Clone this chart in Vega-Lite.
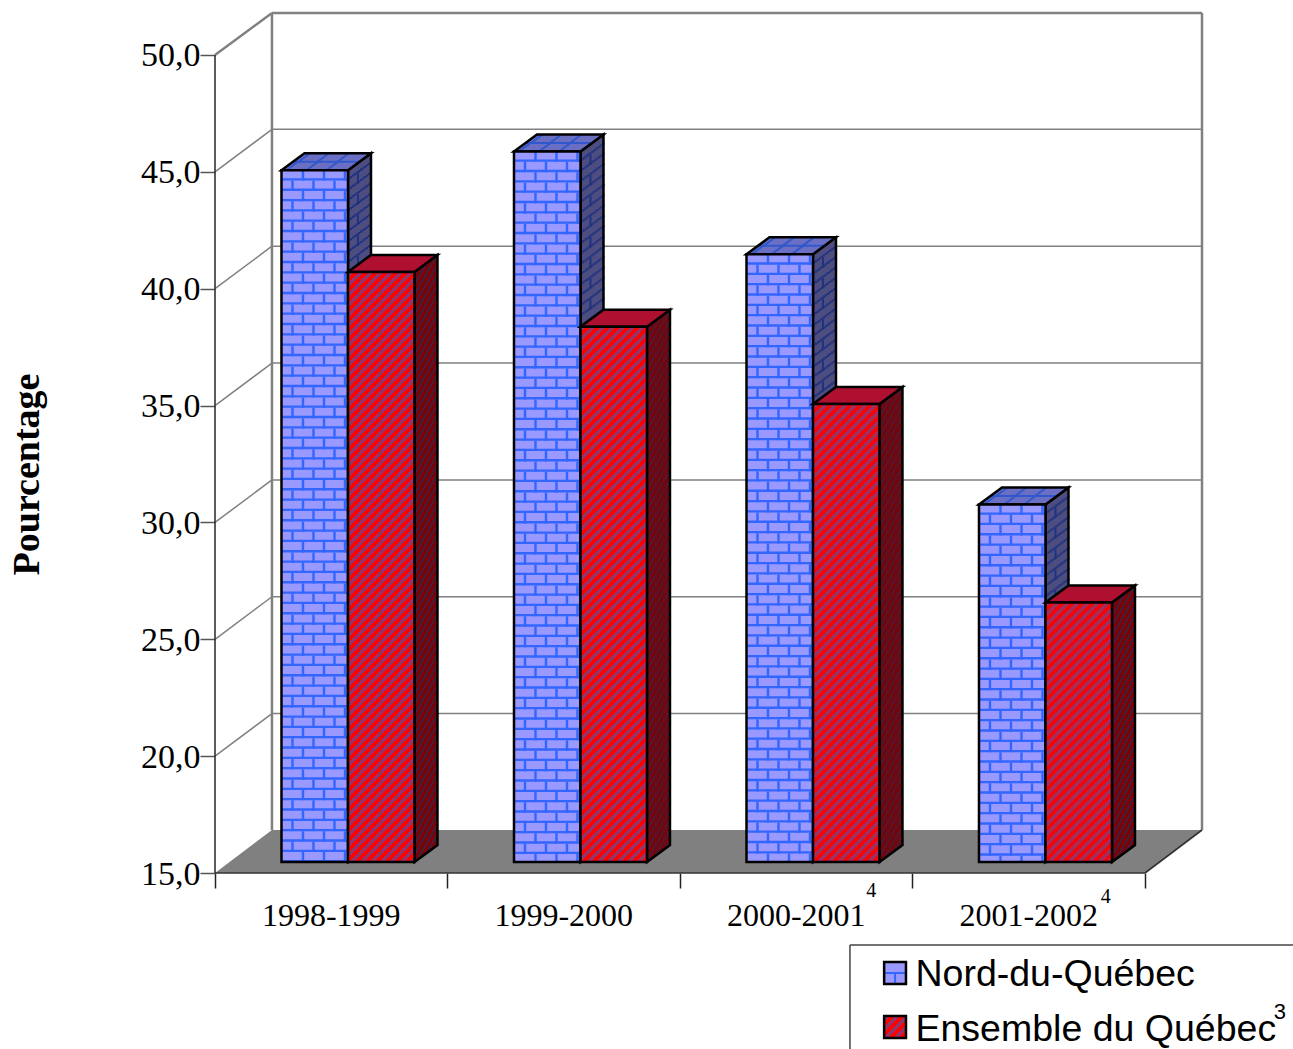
{
"$schema":"https://vega.github.io/schema/vega-lite/v6.json",
"width":987,"height":860,"autosize":"none",
"padding":{"left":215,"top":13,"right":91,"bottom":176},
"background":"white",
"config":{"view":{"stroke":null},"axis":{"grid":false}},
"data":{"values":[
{"periode":"1998-1999","rang":0,"serie":"Nord-du-Québec","valeur":44.6},
{"periode":"1998-1999","rang":0,"serie":"Ensemble du Québec","valeur":40.25},
{"periode":"1999-2000","rang":1,"serie":"Nord-du-Québec","valeur":45.4},
{"periode":"1999-2000","rang":1,"serie":"Ensemble du Québec","valeur":37.9},
{"periode":"2000-2001","rang":2,"serie":"Nord-du-Québec","valeur":41.0},
{"periode":"2000-2001","rang":2,"serie":"Ensemble du Québec","valeur":34.6},
{"periode":"2001-2002","rang":3,"serie":"Nord-du-Québec","valeur":30.3},
{"periode":"2001-2002","rang":3,"serie":"Ensemble du Québec","valeur":26.1}
]},
"transform":[
{"calculate":"datum.rang+(datum.serie==='Nord-du-Québec'?0.286:0.572)","as":"xg"},
{"calculate":"datum.xg+0.286","as":"xd"},
{"calculate":"datum.valeur+0.47","as":"yh"},
{"calculate":"15.47","as":"yb"}
],
"layer":[
{"data":{"values":[{"n":15,"a":0,"b":4},{"n":16.84,"a":0.245,"b":4.2452}]},
 "mark":{"type":"area","orient":"horizontal","color":"#808080"},
 "encoding":{
  "y":{"field":"n","type":"quantitative","scale":{"domain":[15,51.797],"nice":false,"zero":false},
   "title":"Pourcentage",
   "axis":{"values":[15,20,25,30,35,40,45,50],"domain":false,"tickSize":15,"tickColor":"#555","tickWidth":1.5,"labelFont":"Liberation Serif","labelFontSize":34,"labelColor":"black","labelPadding":0,"labelOffset":1,"labelExpr":"replace(format(datum.value,'.1f'),'.',',')","titleFont":"Liberation Serif","titleFontSize":38,"titleFontWeight":"bold","titleColor":"black","titleX":-169,"titleY":461,"titleAngle":270}},
  "x":{"field":"a","type":"quantitative","scale":{"domain":[0,4.2452],"nice":false,"zero":false},
   "title":null,
   "axis":{"values":[0,1,2,3,4],"domain":false,"labels":false,"tickSize":15,"tickColor":"#222","tickWidth":1.5}},
  "x2":{"field":"b"}}},
{"data":{"values":[
 {"a":0.245,"c":16.84,"b":0.245,"d":51.797},
 {"a":0.245,"c":51.797,"b":4.2452,"d":51.797},
 {"a":4.2452,"c":51.797,"b":4.2452,"d":16.84},
 {"a":0,"c":50,"b":0.245,"d":51.797}]},
 "mark":{"type":"rule","color":"#808080","strokeWidth":2.5},
 "encoding":{"x":{"field":"a","type":"quantitative"},"x2":{"field":"b"},"y":{"field":"c","type":"quantitative"},"y2":{"field":"d"}}},
{"data":{"values":[
 {"a":0.245,"c":21.82,"b":4.2452,"d":21.82},{"a":0.245,"c":26.82,"b":4.2452,"d":26.82},
 {"a":0.245,"c":31.82,"b":4.2452,"d":31.82},{"a":0.245,"c":36.82,"b":4.2452,"d":36.82},
 {"a":0.245,"c":41.82,"b":4.2452,"d":41.82},{"a":0.245,"c":46.82,"b":4.2452,"d":46.82},
 {"a":0,"c":20,"b":0.245,"d":21.82},{"a":0,"c":25,"b":0.245,"d":26.82},
 {"a":0,"c":30,"b":0.245,"d":31.82},{"a":0,"c":35,"b":0.245,"d":36.82},
 {"a":0,"c":40,"b":0.245,"d":41.82},{"a":0,"c":45,"b":0.245,"d":46.82}]},
 "mark":{"type":"rule","color":"#808080","strokeWidth":1.5},
 "encoding":{"x":{"field":"a","type":"quantitative"},"x2":{"field":"b"},"y":{"field":"c","type":"quantitative"},"y2":{"field":"d"}}},
{"data":{"values":[
 {"a":0,"c":15,"b":0,"d":50},
 {"a":0,"c":15,"b":4,"d":15},
 {"a":4,"c":15,"b":4.2452,"d":16.84}]},
 "mark":{"type":"rule","color":"#333","strokeWidth":1.6},
 "encoding":{"x":{"field":"a","type":"quantitative"},"x2":{"field":"b"},"y":{"field":"c","type":"quantitative"},"y2":{"field":"d"}}},

{"transform":[{"filter":"datum.serie==='Nord-du-Québec'"},{"calculate":"[datum.xd,datum.xd+0.0989]","as":"sx"},{"calculate":"[datum.yh,datum.yh+0.7274]","as":"st"},{"calculate":"[datum.yb,datum.yb+0.7274]","as":"sb"},{"flatten":["sx","st","sb"]}],
 "mark":{"type":"area","color":"#4d4d80"},
 "encoding":{"x":{"field":"sx","type":"quantitative"},"y":{"field":"st","type":"quantitative"},"y2":{"field":"sb"},"detail":{"field":"rang"}}},
{"transform":[{"filter":"datum.serie==='Nord-du-Québec'"},{"calculate":"[0,2,4,6,8,10,12,14,16,18,20,22]","as":"col"},{"flatten":["col"]},{"calculate":"datum.xd+(datum.col+1)/232.5","as":"xc"},{"calculate":"datum.yh+(datum.col+1)/23*0.7274","as":"y1"},{"calculate":"datum.yb+(datum.col+1)/23*0.7274","as":"y0"}],
 "mark":{"type":"rule","color":"#1f3380","strokeWidth":2,"strokeDash":[0,8,2.33,0]},
 "encoding":{"x":{"field":"xc","type":"quantitative"},"y":{"field":"y1","type":"quantitative"},"y2":{"field":"y0"}}},
{"transform":[{"filter":"datum.serie==='Nord-du-Québec'"},{"calculate":"datum.xd+10/232.5","as":"xc"},{"calculate":"datum.yh+10/23*0.7274","as":"y1"},{"calculate":"datum.yb+10/23*0.7274","as":"y0"}],
 "mark":{"type":"rule","color":"#1f3380","strokeWidth":2,"strokeDash":[0,10.33,10.33,0]},
 "encoding":{"x":{"field":"xc","type":"quantitative"},"y":{"field":"y1","type":"quantitative"},"y2":{"field":"y0"}}},
{"transform":[{"filter":"datum.serie==='Nord-du-Québec'"},{"calculate":"[datum.xd,datum.xd+0.0989]","as":"sx"},{"calculate":"[datum.yh,datum.yh+0.7274]","as":"st"},{"calculate":"[datum.yb,datum.yb+0.7274]","as":"sb"},{"flatten":["sx","st","sb"]}],
 "mark":{"type":"area","fillOpacity":0,"stroke":"black","strokeWidth":2.5},
 "encoding":{"x":{"field":"sx","type":"quantitative"},"y":{"field":"st","type":"quantitative"},"y2":{"field":"sb"},"detail":{"field":"rang"}}},
{"transform":[{"filter":"datum.serie==='Nord-du-Québec'"},{"calculate":"[datum.yh,datum.yh+0.7274]","as":"ty"},{"calculate":"[datum.xg,datum.xg+0.0989]","as":"ta"},{"calculate":"[datum.xd,datum.xd+0.0989]","as":"tb"},{"flatten":["ty","ta","tb"]}],
 "mark":{"type":"area","orient":"horizontal","color":"#6b6fc4"},
 "encoding":{"y":{"field":"ty","type":"quantitative"},"x":{"field":"ta","type":"quantitative"},"x2":{"field":"tb"},"detail":{"field":"rang"}}},
{"transform":[{"filter":"datum.serie==='Nord-du-Québec'"},{"calculate":"datum.xg+0.05","as":"ma"},{"calculate":"datum.xd+0.05","as":"mb"},{"calculate":"datum.yh+0.3637","as":"my"}],
 "mark":{"type":"rule","color":"#3058cc","strokeWidth":2},
 "encoding":{"x":{"field":"ma","type":"quantitative"},"x2":{"field":"mb"},"y":{"field":"my","type":"quantitative"}}},
{"transform":[{"filter":"datum.serie==='Nord-du-Québec'"},{"calculate":"[5,25,45]","as":"col"},{"flatten":["col"]},{"calculate":"datum.xg+datum.col/232.5","as":"ja"},{"calculate":"datum.xg+(datum.col+11.5)/232.5","as":"jb"},{"calculate":"datum.yh+0.3637","as":"jy"}],
 "mark":{"type":"rule","color":"#3058cc","strokeWidth":2},
 "encoding":{"x":{"field":"ja","type":"quantitative"},"x2":{"field":"jb"},"y":{"field":"yh","type":"quantitative"},"y2":{"field":"jy"}}},
{"transform":[{"filter":"datum.serie==='Nord-du-Québec'"},{"calculate":"[17,36,56]","as":"col"},{"flatten":["col"]},{"calculate":"datum.xg+datum.col/232.5","as":"ja"},{"calculate":"datum.xg+(datum.col+11.5)/232.5","as":"jb"},{"calculate":"datum.yh+0.3637","as":"jy"},{"calculate":"datum.yh+0.7274","as":"jz"}],
 "mark":{"type":"rule","color":"#3058cc","strokeWidth":2},
 "encoding":{"x":{"field":"ja","type":"quantitative"},"x2":{"field":"jb"},"y":{"field":"jy","type":"quantitative"},"y2":{"field":"jz"}}},
{"transform":[{"filter":"datum.serie==='Nord-du-Québec'"},{"calculate":"[datum.yh,datum.yh+0.7274]","as":"ty"},{"calculate":"[datum.xg,datum.xg+0.0989]","as":"ta"},{"calculate":"[datum.xd,datum.xd+0.0989]","as":"tb"},{"flatten":["ty","ta","tb"]}],
 "mark":{"type":"area","orient":"horizontal","fillOpacity":0,"stroke":"black","strokeWidth":2.5},
 "encoding":{"y":{"field":"ty","type":"quantitative"},"x":{"field":"ta","type":"quantitative"},"x2":{"field":"tb"},"detail":{"field":"rang"}}},
{"transform":[{"filter":"datum.serie==='Nord-du-Québec'"}],
 "mark":{"type":"rect"},
 "encoding":{"x":{"field":"xg","type":"quantitative"},"x2":{"field":"xd"},"y":{"field":"yh","type":"quantitative"},"y2":{"field":"yb"},
  "color":{"field":"serie","type":"nominal","scale":{"domain":["Nord-du-Québec","Ensemble du Québec"],"range":["#9999ff","#ff0000"]},
   "legend":{"title":null,"orient":"none","legendX":635,"legendY":933.5,"padding":10,"symbolOffset":16,"symbolType":"square","symbolSize":484,"symbolOpacity":0,"symbolStrokeWidth":0,"labelFont":"Liberation Sans","labelFontSize":37.5,"labelColor":"black","labelOffset":2,"labelLimit":500,"rowPadding":16,"labelOverlap":false}}}},
{"transform":[{"filter":"datum.serie==='Nord-du-Québec'"},{"calculate":"(datum.xg+datum.xd)/2","as":"xm"}],
 "mark":{"type":"rule","color":"#3366ff","strokeWidth":66,"strokeDash":[0,8,2.33,0]},
 "encoding":{"x":{"field":"xm","type":"quantitative"},"y":{"field":"yh","type":"quantitative"},"y2":{"field":"yb"}}},
{"transform":[{"filter":"datum.serie==='Nord-du-Québec'"},{"calculate":"[21.5,42.5,63.5]","as":"col"},{"flatten":["col"]},{"calculate":"datum.xg+datum.col/232.5","as":"xc"}],
 "mark":{"type":"rule","color":"#3366ff","strokeWidth":2.4,"strokeDash":[10.33,10.33]},
 "encoding":{"x":{"field":"xc","type":"quantitative"},"y":{"field":"yh","type":"quantitative"},"y2":{"field":"yb"}}},
{"transform":[{"filter":"datum.serie==='Nord-du-Québec'"},{"calculate":"[11,32,53]","as":"col"},{"flatten":["col"]},{"calculate":"datum.xg+datum.col/232.5","as":"xc"}],
 "mark":{"type":"rule","color":"#3366ff","strokeWidth":2.4,"strokeDash":[0,10.33,10.33,0]},
 "encoding":{"x":{"field":"xc","type":"quantitative"},"y":{"field":"yh","type":"quantitative"},"y2":{"field":"yb"}}},
{"transform":[{"filter":"datum.serie==='Nord-du-Québec'"}],
 "mark":{"type":"rect","fillOpacity":0,"stroke":"black","strokeWidth":2.5},
 "encoding":{"x":{"field":"xg","type":"quantitative"},"x2":{"field":"xd"},"y":{"field":"yh","type":"quantitative"},"y2":{"field":"yb"}}},

{"transform":[{"filter":"datum.serie==='Ensemble du Québec'"},{"calculate":"[datum.xd,datum.xd+0.0989]","as":"sx"},{"calculate":"[datum.yh,datum.yh+0.7274]","as":"st"},{"calculate":"[datum.yb,datum.yb+0.7274]","as":"sb"},{"flatten":["sx","st","sb"]}],
 "mark":{"type":"area","color":"#800000"},
 "encoding":{"x":{"field":"sx","type":"quantitative"},"y":{"field":"st","type":"quantitative"},"y2":{"field":"sb"},"detail":{"field":"rang"}}},
{"transform":[{"filter":"datum.serie==='Ensemble du Québec'"},{"calculate":"[0,2,4,6,8,10,12,14,16,18,20,22]","as":"col"},{"flatten":["col"]},{"calculate":"(floor(datum.xd*232.5+0.5)+datum.col+1)/232.5","as":"xc"},{"calculate":"datum.yh+(datum.col+1)/23*0.7274","as":"y1"},{"calculate":"datum.yb+(datum.col+1)/23*0.7274","as":"y0"},{"calculate":"datum.col%10","as":"ph"}],
 "mark":{"type":"rule","color":"#4d1a33","strokeWidth":2},
 "encoding":{"x":{"field":"xc","type":"quantitative"},"y":{"field":"y1","type":"quantitative"},"y2":{"field":"y0"},
  "strokeDash":{"field":"ph","type":"nominal","legend":null,"scale":{"domain":[0,2,4,6,8],"range":[[5,5],[3,5,2,0],[1,5,4,0],[0,4,5,1],[0,2,5,3]]}}}},
{"transform":[{"filter":"datum.serie==='Ensemble du Québec'"},{"calculate":"[datum.xd,datum.xd+0.0989]","as":"sx"},{"calculate":"[datum.yh,datum.yh+0.7274]","as":"st"},{"calculate":"[datum.yb,datum.yb+0.7274]","as":"sb"},{"flatten":["sx","st","sb"]}],
 "mark":{"type":"area","fillOpacity":0,"stroke":"black","strokeWidth":2.5},
 "encoding":{"x":{"field":"sx","type":"quantitative"},"y":{"field":"st","type":"quantitative"},"y2":{"field":"sb"},"detail":{"field":"rang"}}},
{"transform":[{"filter":"datum.serie==='Ensemble du Québec'"},{"calculate":"[datum.yh,datum.yh+0.7274]","as":"ty"},{"calculate":"[datum.xg,datum.xg+0.0989]","as":"ta"},{"calculate":"[datum.xd,datum.xd+0.0989]","as":"tb"},{"flatten":["ty","ta","tb"]}],
 "mark":{"type":"area","orient":"horizontal","color":"#b01030","stroke":"black","strokeWidth":2.5},
 "encoding":{"y":{"field":"ty","type":"quantitative"},"x":{"field":"ta","type":"quantitative"},"x2":{"field":"tb"},"detail":{"field":"rang"}}},
{"transform":[{"filter":"datum.serie==='Ensemble du Québec'"}],
 "mark":{"type":"rect"},
 "encoding":{"x":{"field":"xg","type":"quantitative"},"x2":{"field":"xd"},"y":{"field":"yh","type":"quantitative"},"y2":{"field":"yb"},"color":{"field":"serie","type":"nominal"}}},
{"transform":[{"filter":"datum.serie==='Ensemble du Québec'"},{"calculate":"[0,2,4,6,8,10,12,14,16,18,20,22,24,26,28,30,32,34,36,38,40,42,44,46,48,50,52,54,56,58,60,62,64]","as":"col"},{"flatten":["col"]},{"calculate":"(floor(datum.xg*232.5+0.5)+datum.col+1)/232.5","as":"xc"},{"calculate":"datum.col%10","as":"ph"}],
 "mark":{"type":"rule","color":"#993366","strokeWidth":2},
 "encoding":{"x":{"field":"xc","type":"quantitative"},"y":{"field":"yh","type":"quantitative"},"y2":{"field":"yb"},
  "strokeDash":{"field":"ph","type":"nominal","legend":null,"scale":{"domain":[0,2,4,6,8],"range":[[5,5],[3,5,2,0],[1,5,4,0],[0,4,5,1],[0,2,5,3]]}}}},
{"transform":[{"filter":"datum.serie==='Ensemble du Québec'"}],
 "mark":{"type":"rect","fillOpacity":0,"stroke":"black","strokeWidth":2.5},
 "encoding":{"x":{"field":"xg","type":"quantitative"},"x2":{"field":"xd"},"y":{"field":"yh","type":"quantitative"},"y2":{"field":"yb"}}},

{"transform":[{"filter":"datum.serie==='Nord-du-Québec'"},{"calculate":"datum.rang+0.5","as":"xl"}],
 "mark":{"type":"text","font":"Liberation Serif","fontSize":32,"color":"black","baseline":"middle","dy":43},
 "encoding":{"x":{"field":"xl","type":"quantitative"},"y":{"datum":15},"text":{"field":"periode"}}},
{"data":{"values":[{"note":"4"}]},
 "mark":{"type":"text","font":"Liberation Serif","fontSize":20,"color":"black","baseline":"middle","dx":75,"dy":18},
 "encoding":{"x":{"datum":2.5},"y":{"datum":15},"text":{"field":"note"}}},
{"data":{"values":[{"note":"4"}]},
 "mark":{"type":"text","font":"Liberation Serif","fontSize":20,"color":"black","baseline":"middle","dx":77,"dy":24},
 "encoding":{"x":{"datum":3.5},"y":{"datum":15},"text":{"field":"note"}}},

{"data":{"values":[{"a":2.731,"c":11.92,"b":4.637,"d":11.92},{"a":2.731,"c":11.92,"b":2.731,"d":7.47}]},
 "mark":{"type":"rule","color":"#444","strokeWidth":1.5},
 "encoding":{"x":{"field":"a","type":"quantitative"},"x2":{"field":"b"},"y":{"field":"c","type":"quantitative"},"y2":{"field":"d"}}},
{"data":{"values":[{"a":2.878,"b":2.972,"c":11.19,"d":10.25}]},
 "mark":{"type":"rect","color":"#9999ff"},
 "encoding":{"x":{"field":"a","type":"quantitative"},"x2":{"field":"b"},"y":{"field":"c","type":"quantitative"},"y2":{"field":"d"}}},
{"data":{"values":[{"a":2.878,"b":2.972,"c":8.88,"d":7.94}]},
 "mark":{"type":"rect","color":"#ff0000"},
 "encoding":{"x":{"field":"a","type":"quantitative"},"x2":{"field":"b"},"y":{"field":"c","type":"quantitative"},"y2":{"field":"d"}}},
{"data":{"values":[{"a":2.878,"c":10.72,"b":2.972,"d":10.72},{"a":2.925,"c":10.72,"b":2.925,"d":10.25}]},
 "mark":{"type":"rule","color":"#3366ff","strokeWidth":2},
 "encoding":{"x":{"field":"a","type":"quantitative"},"x2":{"field":"b"},"y":{"field":"c","type":"quantitative"},"y2":{"field":"d"}}},
{"data":{"values":[{"a":2.878,"c":8.88,"d":7.94}]},
 "transform":[{"calculate":"[0,2,4,6,8,10,12,14,16,18,20]","as":"col"},{"flatten":["col"]},{"calculate":"(floor(datum.a*232.5+0.5)+datum.col+1)/232.5","as":"xc"},{"calculate":"datum.col%10","as":"ph"}],
 "mark":{"type":"rule","color":"#993366","strokeWidth":2},
 "encoding":{"x":{"field":"xc","type":"quantitative"},"y":{"field":"c","type":"quantitative"},"y2":{"field":"d"},
  "strokeDash":{"field":"ph","type":"nominal","legend":null,"scale":{"domain":[0,2,4,6,8],"range":[[5,5],[3,5,2,0],[1,5,4,0],[0,4,5,1],[0,2,5,3]]}}}},
{"data":{"values":[{"a":2.878,"b":2.972,"c":11.19,"d":10.25},{"a":2.878,"b":2.972,"c":8.88,"d":7.94}]},
 "mark":{"type":"rect","fillOpacity":0,"stroke":"black","strokeWidth":2.5},
 "encoding":{"x":{"field":"a","type":"quantitative"},"x2":{"field":"b"},"y":{"field":"c","type":"quantitative"},"y2":{"field":"d"}}},
{"data":{"values":[{"note":"3"}]},
 "mark":{"type":"text","font":"Liberation Sans","fontSize":22,"color":"black","baseline":"middle","align":"center"},
 "encoding":{"x":{"datum":4.58},"y":{"datum":9.05},"text":{"field":"note"}}}
]
}
